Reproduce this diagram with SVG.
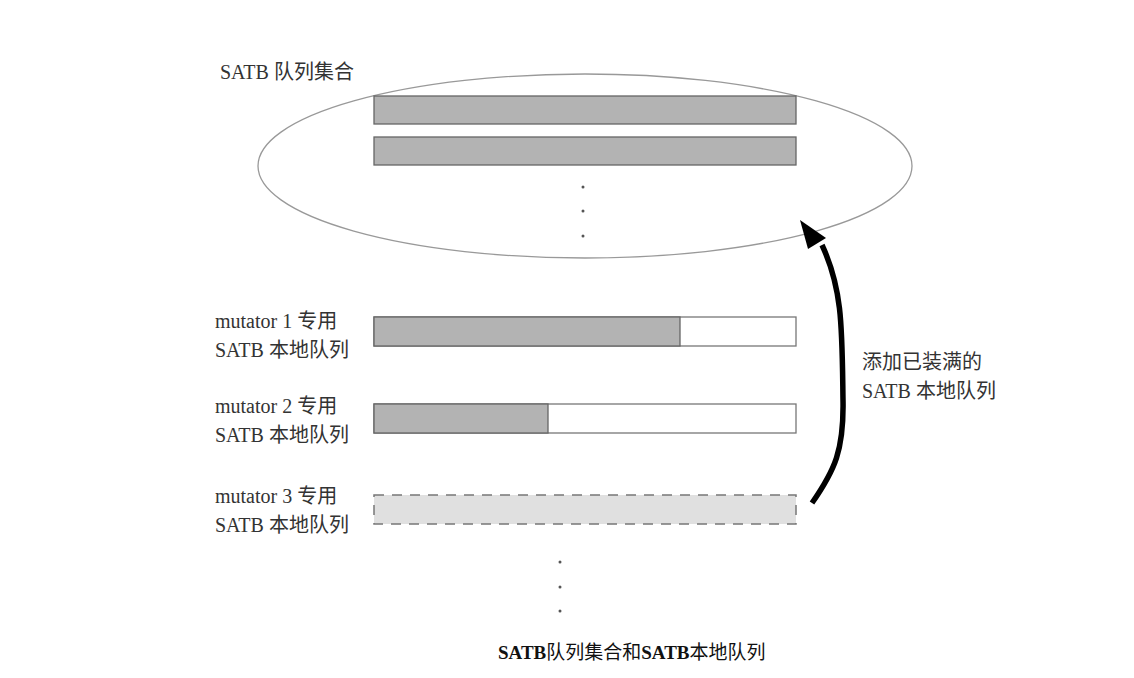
<svg xmlns="http://www.w3.org/2000/svg" width="1134" height="678" viewBox="0 0 1134 678">
<style>
text{font-family:"Liberation Serif","Noto Sans CJK SC",serif;font-size:20px;fill:#333}
.full{fill:#b3b3b3;stroke:#666;stroke-width:1.3}
.empty{fill:#fff;stroke:#777;stroke-width:1.3}
.dot{fill:#555}
</style>
<rect width="1134" height="678" fill="#fff"/>
<g id="satb-set">
<ellipse cx="585" cy="166" rx="327" ry="92" fill="none" stroke="#999" stroke-width="1.3"/>
<text x="220" y="79">SATB 队列集合</text>
<rect class="full" x="374" y="96" width="422" height="28"/>
<rect class="full" x="374" y="137" width="422" height="28"/>
<circle class="dot" cx="583" cy="187" r="1.5"/>
<circle class="dot" cx="583" cy="211" r="1.5"/>
<circle class="dot" cx="583" cy="236" r="1.5"/>
</g>
<g id="mutator1">
<text x="215" y="328">mutator 1 专用</text>
<text x="215" y="357">SATB 本地队列</text>
<rect class="empty" x="374" y="317" width="422" height="29"/>
<rect class="full" x="374" y="317" width="306" height="29"/>
</g>
<g id="mutator2">
<text x="215" y="413">mutator 2 专用</text>
<text x="215" y="442">SATB 本地队列</text>
<rect class="empty" x="374" y="404" width="422" height="29"/>
<rect class="full" x="374" y="404" width="174" height="29"/>
</g>
<g id="mutator3">
<text x="215" y="503">mutator 3 专用</text>
<text x="215" y="532">SATB 本地队列</text>
<rect x="374" y="495" width="422" height="29" fill="#e0e0e0" stroke="#777" stroke-width="1.5" stroke-dasharray="10,8"/>
</g>
<g id="more">
<circle class="dot" cx="560" cy="562" r="1.5"/>
<circle class="dot" cx="560" cy="587" r="1.5"/>
<circle class="dot" cx="560" cy="611" r="1.5"/>
</g>
<g id="connectors">
<path d="M812,503 C835,470 844,450 843,400 C842,330 843,290 822,245" fill="none" stroke="#000" stroke-width="5.5"/>
<polygon points="800,220 826,238 808,249" fill="#000"/>
<text x="862" y="369">添加已装满的</text>
<text x="862" y="398">SATB 本地队列</text>
</g>
<g id="caption">
<text x="498" y="659" style="font-size:19px;fill:#111"><tspan font-weight="bold">SATB</tspan>队列集合和<tspan font-weight="bold">SATB</tspan>本地队列</text>
</g>
</svg>
